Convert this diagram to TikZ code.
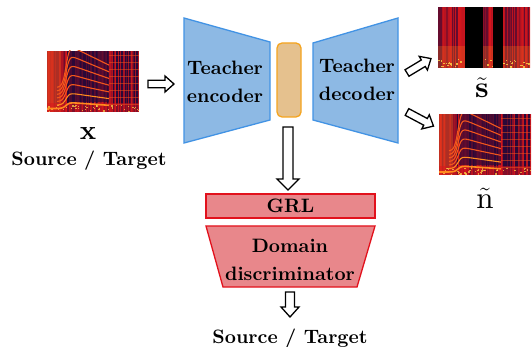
\documentclass[tikz,border=0pt]{standalone}
\usepackage{fix-cm}
\usepackage{fontspec}
\setmainfont{lmroman10-regular.otf}[BoldFont=lmroman10-bold.otf, ItalicFont=lmroman10-italic.otf]
\usetikzlibrary{calc}
\definecolor{encfill}{HTML}{8DB9E4}
\definecolor{encdraw}{HTML}{4293E4}
\definecolor{latfill}{HTML}{E5C18E}
\definecolor{latdraw}{HTML}{F5A41E}
\definecolor{grlfill}{HTML}{E8878B}
\definecolor{grldraw}{HTML}{E2111C}
\definecolor{specbg}{HTML}{2A0838}
\definecolor{specred}{HTML}{D8161C}
\definecolor{specor}{HTML}{FF8A1E}
\definecolor{specor2}{HTML}{F2561C}
\definecolor{specyel}{HTML}{FFD94A}

\tikzset{
 lbl/.style={font=\fontsize{19.4}{28}\selectfont\bfseries, align=center, inner sep=0pt},
 net/.style={fill=encfill, draw=encdraw, line width=1.3pt, line join=miter},
 disc/.style={fill=grlfill, draw=grldraw, line width=1.3pt, line join=miter},
 barrow/.style={draw=black, fill=white, line width=1.3pt, line join=miter},
 specbox/.style={minimum width=92pt, minimum height=61pt, inner sep=0pt, outer sep=0pt},
}

\newcommand\blockarrow[6]{%
 \begin{scope}[shift={(#1)}, rotate=#2]
 \draw[barrow] (0,-#4) -- ({#3-#6},-#4) -- ({#3-#6},-#5) -- (#3,0) -- ({#3-#6},#5) -- ({#3-#6},#4) -- (0,#4) -- cycle;
 \end{scope}}

\newcommand\speechspec[2]{%
 \begin{scope}
 \clip (#1.south west) rectangle (#1.north east);
 \begin{scope}[shift={(#1.south west)}, x=1pt, y=1pt]
 \fill[specbg] (0,0) rectangle (92,61);
 \pgfmathsetseed{#2}
 \foreach \i in {1,...,80}{%
  \pgfmathsetmacro\px{rnd*92}%
  \pgfmathsetmacro\pw{0.5+rnd*1.5}%
  \pgfmathsetmacro\po{0.2+0.6*rnd}%
  \fill[specred, opacity=\po] (\px,0) rectangle ++(\pw,61);}
 \fill[specred, opacity=0.6] (0,0) rectangle (17,61);
 \fill[specor, opacity=0.25] (0,0) rectangle (14,61);
 \fill[specbg, opacity=0.65] (20,10) rectangle (62,61);
 \fill[specred, opacity=0.5] (0,0) rectangle (92,9);
 \foreach \i in {1,...,45}{%
  \pgfmathsetmacro\px{rnd*92}%
  \pgfmathsetmacro\py{rnd*7}%
  \fill[specyel, opacity=0.7] (\px,\py) rectangle ++(1.5,1.2);}
 \foreach \yy in {8,15,...,57} \draw[specor2, opacity=0.5, line width=0.8pt] (62,\yy) -- (92,\yy);
 \foreach \k/\c in {2/specor,3/specor2,4/specor2,5/specor2,6/specor2,7/specor2}{%
  \draw[\c, line width=1.1pt] plot[domain=10:62, samples=50, smooth] (\x,{\k*(3.5+6/(1+exp(-(\x-19)/1.8))-0.07*max(\x-22,0))});}
 \draw[specor, line width=1.6pt] (0,3.5) -- (10,3.52) plot[domain=10:62, samples=50, smooth] (\x,{(3.5+6/(1+exp(-(\x-19)/1.8))-0.07*max(\x-22,0))});
 \end{scope}
 \end{scope}}

\newcommand\sourcespec[1]{%
 \begin{scope}
 \clip (#1.south west) rectangle (#1.north east);
 \begin{scope}[shift={(#1.south west)}, x=1pt, y=1pt]
 \fill[specbg] (0,0) rectangle (92,61);
 \fill[specred, opacity=0.35] (0,0) rectangle (92,61);
 \pgfmathsetseed{5}
 \foreach \i in {1,...,90}{%
  \pgfmathsetmacro\px{rnd*92}%
  \pgfmathsetmacro\pw{0.5+rnd*1.5}%
  \pgfmathsetmacro\po{0.3+0.6*rnd}%
  \fill[specred, opacity=\po] (\px,0) rectangle ++(\pw,61);}
 \fill[specor, opacity=0.25] (0,0) rectangle (92,22);
 \foreach \i in {1,...,50}{%
  \pgfmathsetmacro\px{rnd*92}%
  \pgfmathsetmacro\py{rnd*8}%
  \fill[specyel, opacity=0.8] (\px,\py) rectangle ++(1.5,1.2);}
 \fill[black] (27,0) rectangle (45,61);
 \fill[black] (55,0) rectangle (65,61);
 \end{scope}
 \end{scope}}

\begin{document}
\begin{tikzpicture}[x=1pt, y=-1pt]
\useasboundingbox (0,0) rectangle (532,347);
\fill[white] (0,0) rectangle (532,347);

% spectrograms
\node[specbox] (specx) at (93,81.5) {};
\speechspec{specx}{11}
\node[specbox] (specs) at (484,37.5) {};
\sourcespec{specs}
\node[specbox] (specn) at (485,145) {};
\speechspec{specn}{23}

% labels
\node[inner sep=0pt, font=\fontsize{27}{28}\selectfont\bfseries, anchor=base] (xlab) at (88,140) {x};
\node[lbl, anchor=base] (srcx) at (89,166) {Source / Target};
\node[anchor=base, inner sep=0pt, font=\fontsize{30}{31}\selectfont] (slab) at (482,98) {$\tilde{\mathbf{s}}$};
\node[anchor=base, inner sep=0pt, font=\fontsize{31}{32}\selectfont] (nlab) at (485,209) {$\tilde{\mathrm{n}}$};

% encoder / decoder
\draw[net] (184,18) -- (270,42) -- (270,120) -- (184,143) -- cycle;
\node[lbl] (enc) at (225,82) {Teacher\\encoder};
\draw[net] (313,43) -- (398,18) -- (398,143) -- (313,120) -- cycle;
\node[lbl] (dec) at (357,80) {Teacher\\decoder};
\node[fill=latfill, draw=latdraw, line width=1.3pt, rounded corners=5pt, minimum width=24pt, minimum height=74pt, inner sep=0pt] (lat) at (289,80) {};

% GRL and discriminator
\node[disc, minimum width=169pt, minimum height=24pt, inner sep=0pt] (grl) at (290.5,206) {};
\node[lbl] at (grl) {GRL};
\draw[disc] (206,226) -- (375,226) -- (357,287) -- (223,287) -- cycle;
\node[lbl] (dd) at (290,260) {Domain\\discriminator};
\node[lbl, anchor=base] (srcd) at (290,343) {Source / Target};

% block arrows
\coordinate (a1) at (148,84);
\coordinate (a2) at (407,73);
\coordinate (a3) at (407,112);
\coordinate (a4) at (288,127);
\coordinate (a5) at (290,292);
\blockarrow{a1}{0}{26}{3.8}{8}{9}
\blockarrow{a2}{31}{28}{3.8}{8}{9}
\blockarrow{a3}{-28}{30}{3.8}{8}{9}
\blockarrow{a4}{-90}{63}{5}{11}{11}
\blockarrow{a5}{-90}{25}{4.5}{9}{10}
\end{tikzpicture}
\end{document}
